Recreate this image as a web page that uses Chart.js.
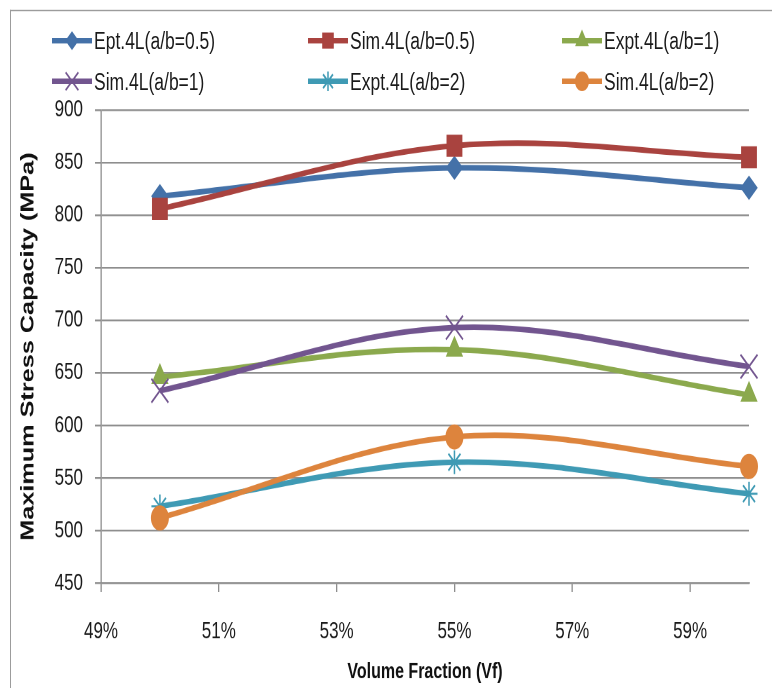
<!DOCTYPE html>
<html>
<head>
<meta charset="utf-8">
<script src="https://cdn.jsdelivr.net/npm/chart.js@4.4.1/dist/chart.umd.min.js"></script>
<style>
html,body{margin:0;padding:0;background:#fff;overflow:hidden;width:772px;height:688px}
/* the reference is stretched vertically, so draw flat and scale the whole box */
#wrap{position:absolute;left:0;top:0;width:772px;height:491px;transform:scaleY(1.4012);transform-origin:0 0}
#frame{position:absolute;left:10px;top:7px;width:820px;height:600px;border-top:1.4px solid #9c9c9c;border-left:1.4px solid #9c9c9c}
#cv{position:absolute;left:0;top:0}
.lg{position:absolute;height:20px;display:flex;align-items:center;white-space:nowrap;
  font:17.5px 'Liberation Sans',Arial,sans-serif;color:#1a1a1a}
.lg canvas{margin-right:2px}
</style>
</head>
<body>
<div id="wrap">
  <div id="frame"></div>
  <canvas id="cv" width="772" height="491"></canvas>
  <div id="legend"></div>
</div>
<script>
/* ═══ DATA ═══ */
const VF=[50,55,60];                 // volume fraction, %
const X_TICKS=[49,51,53,55,57,59];
const NAMES=['Ept.4L(a/b=0.5)','Sim.4L(a/b=0.5)','Expt.4L(a/b=1)','Sim.4L(a/b=1)','Expt.4L(a/b=2)','Sim.4L(a/b=2)'];
const EPT_05=[818,845,826];
const SIM_05=[806,866,855];
const EXPT_1=[646,672,629];
const SIM_1=[633,693,656];
const EXPT_2=[523,565,535];
const SIM_2=[512,589,561];
const SERIES=[EPT_05,SIM_05,EXPT_1,SIM_1,EXPT_2,SIM_2];

/* ═══ STYLE ═══ */
const COL=['#4471a8','#a9433f','#8ba94d','#72558f','#3f9ab4','#dd843d'];
const PST=['rectRot','rect','triangle','crossRot','star','circle'];
const PR=[8,10.5,9,12,8.5,8.5];
const LG_PR=[6,7.5,7,9,7,6.5];
const LG_POS=[[52,29],[308,29],[562,29],[52,58],[308,58],[562,58]];
const GRID='#8e8e8e';
const FONT="'Liberation Sans',Arial,sans-serif";

function drawMark(ctx,i,x,y,r){
  ctx.fillStyle=COL[i]; ctx.strokeStyle=COL[i];
  if(Chart.helpers&&Chart.helpers.drawPoint){
    ctx.lineWidth=(PST[i]==='crossRot'||PST[i]==='star')?1.5:1;
    Chart.helpers.drawPoint(ctx,{pointStyle:PST[i],radius:r,rotation:0,borderWidth:ctx.lineWidth},x,y);
  }else{
    ctx.beginPath(); ctx.arc(x,y,r*0.7,0,Math.PI*2); ctx.fill();
  }
}

function buildLegend(){
  const box=document.getElementById('legend');
  NAMES.forEach((n,i)=>{
    const it=document.createElement('div');
    it.className='lg';
    it.style.left=LG_POS[i][0]+'px';
    it.style.top=(LG_POS[i][1]-10)+'px';
    const c=document.createElement('canvas');
    c.width=80; c.height=40; c.style.width='40px'; c.style.height='20px';
    const g=c.getContext('2d'); g.scale(2,2);
    g.strokeStyle=COL[i]; g.lineWidth=4;
    g.beginPath(); g.moveTo(0,10); g.lineTo(40,10); g.stroke();
    drawMark(g,i,20,10,LG_PR[i]);
    it.appendChild(c);
    const s=document.createElement('span'); s.textContent=n;
    it.appendChild(s);
    box.appendChild(it);
  });
}

/* ═══ CHART ═══ */
function rCht(){
  const ds=SERIES.map((v,i)=>({
    label:NAMES[i],
    data:VF.map((x,j)=>({x:x,y:v[j]})),
    borderColor:COL[i], backgroundColor:COL[i],
    pointBorderColor:COL[i], pointBackgroundColor:COL[i],
    pointStyle:PST[i], pointRadius:PR[i], pointHoverRadius:PR[i],
    pointBorderWidth:(PST[i]==='crossRot'||PST[i]==='star')?1.5:1,
    borderWidth:4, tension:0.35, fill:false, clip:false,
    order:SERIES.length-i
  }));
  new Chart(document.getElementById('cv').getContext('2d'),{
    type:'line',
    data:{datasets:ds},
    options:{
      responsive:false, animation:false, devicePixelRatio:2,
      layout:{padding:{top:78.5,right:23,bottom:0,left:0}},
      plugins:{legend:{display:false},tooltip:{enabled:false}},
      scales:{
        x:{
          type:'linear', min:49, max:60,
          afterBuildTicks:s=>{s.ticks=X_TICKS.map(v=>({value:v}))},
          afterFit:s=>{s.height=491-416.1},
          grid:{drawOnChartArea:false, drawTicks:true, tickLength:6.4, color:GRID, lineWidth:1.3},
          border:{display:true, color:GRID, width:1.3},
          ticks:{padding:18.3, maxRotation:0, autoSkip:false, color:'#1a1a1a',
            font:{family:FONT, size:17},
            callback:v=>v+'%'},
          title:{display:true, text:'Volume Fraction (Vf)', color:'#111',
            font:{family:FONT, size:16, weight:'bold'},
            padding:{top:0,bottom:1.8}}
        },
        y:{
          min:450, max:900,
          afterFit:s=>{s.width=101},
          grid:{color:GRID, lineWidth:1.3, drawTicks:true, tickLength:6},
          border:{display:true, color:GRID, width:1.3},
          ticks:{stepSize:50, padding:12, color:'#1a1a1a',
            font:{family:FONT, size:17}},
          title:{display:true, text:'Maximum Stress Capacity (MPa)', color:'#111',
            font:{family:FONT, size:18, weight:'bold'},
            padding:{top:17.5,bottom:0}}
        }
      }
    }
  });
}

buildLegend();
rCht();
</script>
</body>
</html>
